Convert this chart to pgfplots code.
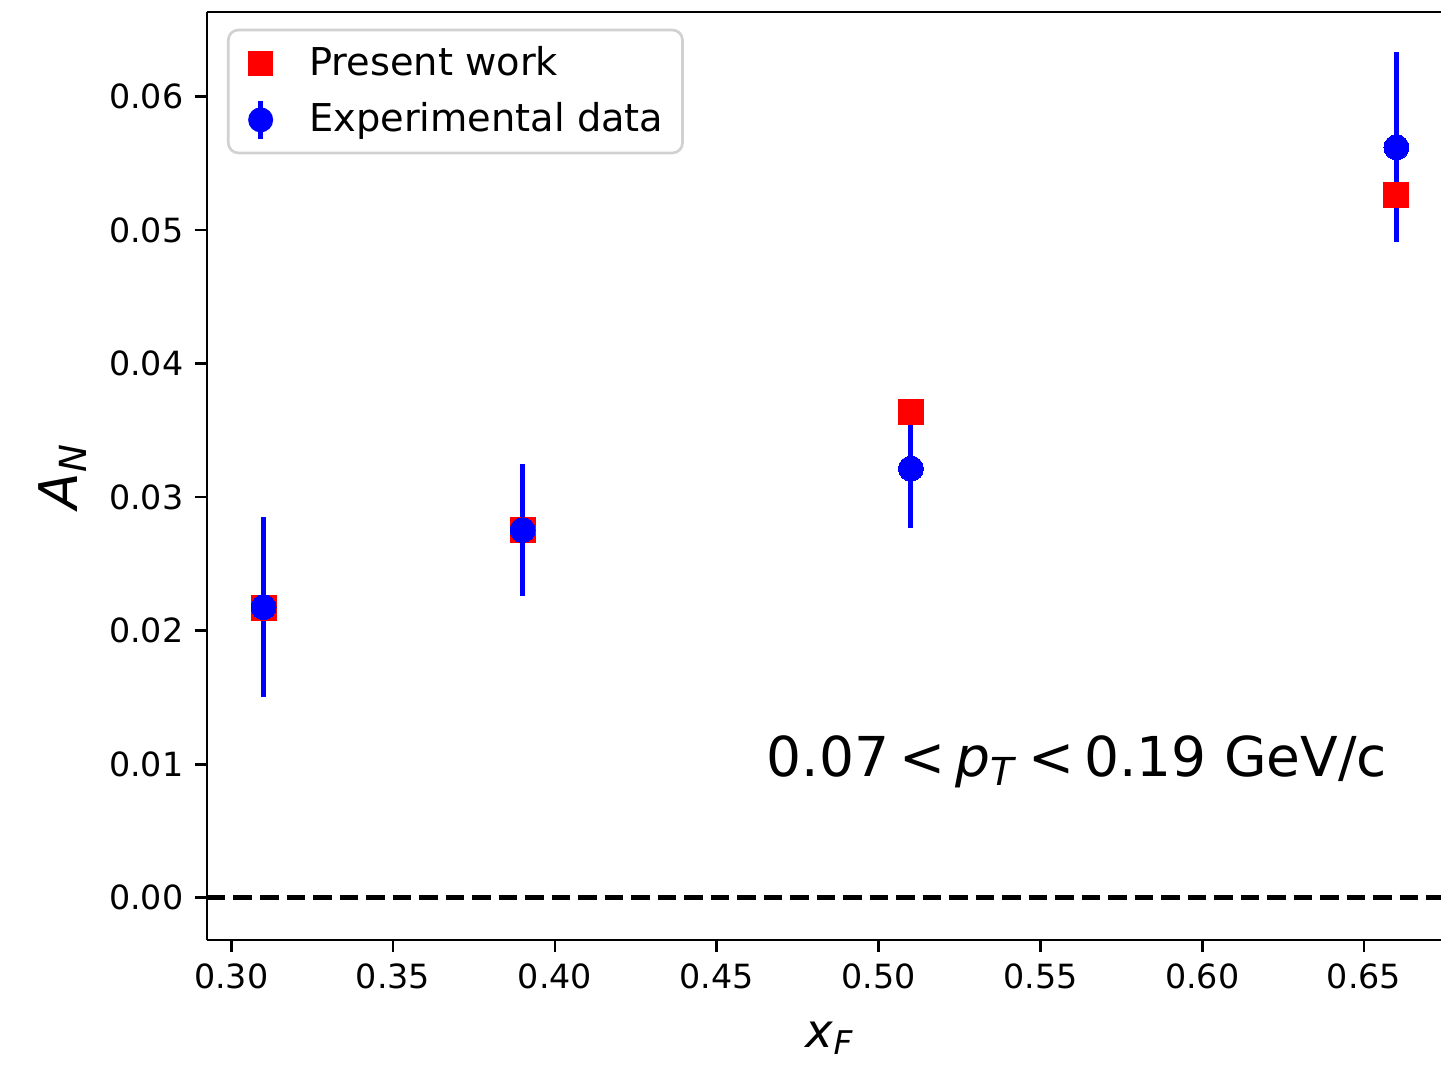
\documentclass[border=0pt]{standalone}
\usepackage{pgfplots}
\pgfplotsset{compat=1.18}
\usepackage{fontspec}
\setmainfont{DejaVu Sans}
\begin{document}
\begin{tikzpicture}
\begin{axis}[
  at={(0,0)}, anchor=south west,
  scale only axis, width=373.8pt, height=278.4pt,
  xmin=0.2925, xmax=0.6775, ymin=-0.00316, ymax=0.06631,
  axis y line*=left,
  axis line style={line width=0.8pt},
  xtick={0.30,0.35,0.40,0.45,0.50,0.55,0.60,0.65},
  ytick={0,0.01,0.02,0.03,0.04,0.05,0.06},
  xtick pos=bottom, ytick pos=left,
  tick align=outside,
  major tick length=3.6pt,
  every tick/.style={line width=0.8pt, black},
  minor tick num=0,
  /pgf/number format/assume math mode=true,
  xticklabel style={/pgf/number format/.cd, fixed, fixed zerofill, precision=2},
  yticklabel style={/pgf/number format/.cd, fixed, fixed zerofill, precision=2},
  scaled ticks=false,
  tick label style={font=\fontsize{10}{12}\selectfont},
  xlabel={\textit{x}\textsubscript{\textit{F}}},
  ylabel={\textit{A}\textsubscript{\textit{N}}},
  xlabel style={font=\fontsize{14}{16}\selectfont, yshift=-3pt},
  ylabel style={font=\fontsize{16}{18}\selectfont},
  legend style={at={(rel axis cs:0,1)}, anchor=north west, xshift=6pt, yshift=-5pt,
    draw=black!18, line width=0.8pt, rounded corners=3pt,
    font=\fontsize{11.5}{13.5}\selectfont, row sep=2.8pt,
    inner xsep=3.7pt, inner ysep=2.8pt},
  legend cell align=left,
]
\addplot[red, only marks, mark=square*, mark size=3.75pt, mark options={draw=red, fill=red, line width=0pt},
  legend image code/.code={\path[draw=none, fill=none] (0,0) -- (18.6pt,0);
    \fill[red, draw=none, sharp corners] (2.25pt,-3.75pt) rectangle (9.75pt,3.75pt);}]
  coordinates {(0.31,0.02167) (0.39,0.02755) (0.51,0.03638) (0.66,0.05260)};
\addlegendentry{Present work}
\addplot[blue, only marks, mark=*, mark size=3.75pt, mark options={draw=blue, fill=blue, line width=0pt},
  legend image code/.code={\path[draw=none, fill=none] (0,0) -- (18.6pt,0);
    \draw[blue, line width=1.5pt, sharp corners] (6pt,-5.6pt) -- (6pt,5.6pt);
    \fill[blue, draw=none] (6pt,0) circle (3.75pt);},
  error bars/.cd, y dir=both, y explicit, error mark=none,
  error bar style={line width=1.5pt, blue},
  ]
  coordinates {
  (0.31,0.02176) +- (0,0.00674)
  (0.39,0.02753) +- (0,0.00491)
  (0.51,0.03213) +- (0,0.00442)
  (0.66,0.05618) +- (0,0.00712)
  };
\addlegendentry{Experimental data}
\addplot[black, dashed, line width=1.5pt, dash pattern=on 5.55pt off 2.4pt, forget plot]
  coordinates {(0.2925,0) (0.6775,0)};
\node[font=\fontsize{16.5}{20}\selectfont, inner sep=0pt] at (axis cs:0.5613,0.01019)
  {0.07\hspace{3pt}<\hspace{3pt}\textit{p}\textsubscript{\textit{T}}\hspace{3pt}<\hspace{3pt}0.19 GeV/c};
\end{axis}
\pgfresetboundingbox
\useasboundingbox (-62.1pt,-37.8pt) rectangle (370.2pt,282pt);
\end{tikzpicture}
\end{document}
